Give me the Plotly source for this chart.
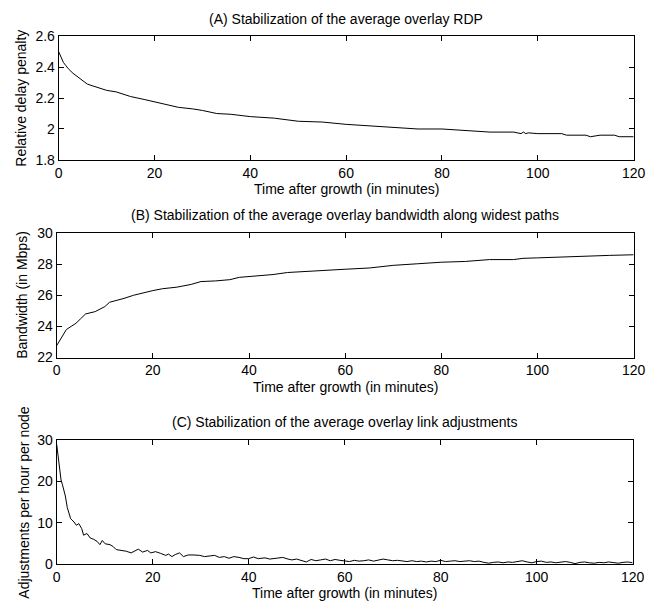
import plotly.graph_objects as go

# ---------------- data ----------------
# (A) average overlay RDP
rdp_t = [0, 0.5, 1, 1.5, 2, 3, 4, 5, 6, 7, 8, 10, 12, 15, 18, 20, 22, 25, 28, 30, 33, 36,
         40, 45, 50, 55, 60, 65, 70, 75, 80, 85, 90, 95, 96.5, 97, 97.5, 98, 100, 105, 106,
         110, 111, 113, 116, 117, 120]
rdp_v = [2.50, 2.46, 2.43, 2.41, 2.39, 2.36, 2.335, 2.31, 2.29, 2.28, 2.27, 2.25, 2.24, 2.21, 2.19, 2.175, 2.16, 2.14, 2.13, 2.12, 2.10, 2.095,
         2.08, 2.07, 2.05, 2.045, 2.03, 2.02, 2.01, 2.00, 2.00, 1.99, 1.98, 1.98, 1.97, 1.98, 1.97, 1.975, 1.97, 1.97, 1.96,
         1.96, 1.95, 1.96, 1.96, 1.95, 1.95]

# (B) average overlay bandwidth along widest paths
bw_t = [0, 1, 2, 3, 4, 5, 6, 8, 10, 11, 12, 14, 16, 18, 20, 22, 25, 28, 30, 33, 36, 38,
        40, 45, 48, 50, 55, 60, 65, 68, 70, 75, 80, 85, 90, 95, 97, 100, 105, 110, 115, 120]
bw_v = [22.77, 23.3, 23.8, 24.0, 24.2, 24.5, 24.8, 24.95, 25.27, 25.55, 25.63, 25.8, 26.0, 26.17, 26.3, 26.42, 26.52, 26.7, 26.88, 26.92, 27.0, 27.15,
        27.2, 27.33, 27.46, 27.5, 27.56, 27.67, 27.75, 27.88, 27.92, 28.02, 28.12, 28.17, 28.29, 28.29, 28.37, 28.4, 28.46, 28.54, 28.56, 28.6]

# (C) average overlay link adjustments (per hour per node)
adj_t = [0, 0.5, 0.9, 1.2, 1.8, 2.2, 2.9, 3.6, 4.1, 4.6, 5.2, 5.6, 6.3, 7.0, 7.7, 8.4, 9.0, 9.5,
         10.1, 11.1, 11.8, 12.4, 13.5, 14.5, 15.5, 16.2, 17.0, 17.9, 18.9, 19.6, 20.6, 21.6,
         22.7, 23.3, 24.0, 24.7, 25.6, 26.4, 27.4, 28.4, 29.8, 30.8, 31.8, 32.9, 33.9, 34.9,
         35.9, 36.9, 38.0, 39.0, 40.0, 41.0, 42.0, 43.4, 44.4, 45.8, 47.1, 48.2,
         49, 50, 51, 52, 53, 54, 55, 56, 57, 58, 59, 60, 61, 62, 63, 64, 65, 66, 67, 68, 69,
         70, 71, 72, 73, 74, 75, 76, 77, 78, 79, 80, 81, 82, 83, 84, 85, 86, 87, 88, 89, 90,
         91, 92, 93, 94, 95, 96, 97, 98, 99, 100, 101, 102, 103, 104, 105, 106, 107, 108, 109,
         110, 111, 112, 113, 114, 115, 116, 117, 118, 119, 120]
adj_v = [29.0, 23.9, 20.4, 19.2, 16.5, 13.7, 11.0, 10.2, 9.4, 9.8, 8.6, 7.0, 7.4, 6.3, 6.0, 5.5, 4.7, 5.7,
         4.9, 4.7, 4.2, 3.5, 3.3, 3.1, 2.7, 3.1, 3.6, 2.9, 3.3, 2.7, 3.0, 2.6,
         2.1, 2.4, 1.8, 2.3, 2.7, 1.8, 2.2, 2.2, 2.1, 1.8, 2.0, 2.1, 1.6, 1.8,
         1.4, 1.8, 1.6, 1.3, 1.3, 1.7, 1.3, 1.5, 1.2, 1.4, 1.6, 1.2,
         1.0, 1.2, 0.9, 0.5, 1.1, 0.8, 1.0, 1.2, 0.8, 1.1, 0.9, 0.8, 0.6, 0.9, 0.7, 0.8, 1.0, 0.7, 0.9, 1.2, 1.0,
         0.8, 0.9, 0.7, 0.6, 0.8, 0.6, 0.7, 0.5, 0.7, 0.6, 0.9, 0.6, 0.7, 0.8, 0.6, 0.7, 0.8, 0.6, 0.7, 0.4, 0.2,
         0.4, 0.5, 0.3, 0.5, 0.4, 0.6, 0.8, 0.5, 0.3, 0.6, 0.7, 0.4, 0.5, 0.3, 0.5, 0.6, 0.4, 0.1, 0.4,
         0.5, 0.3, 0.2, 0.4, 0.3, 0.5, 0.3, 0.2, 0.4, 0.5, 0.3]

x_ticks = [0, 20, 40, 60, 80, 100, 120]
x_ticktext = ["0", "20", "40", "60", "80", "100", "120"]
a_ticks = [1.8, 2.0, 2.2, 2.4, 2.6]
a_ticktext = ["1.8", "2", "2.2", "2.4", "2.6"]
b_ticks = [22, 24, 26, 28, 30]
b_ticktext = ["22", "24", "26", "28", "30"]
c_ticks = [0, 10, 20, 30]
c_ticktext = ["0", "10", "20", "30"]

titles = ["(A) Stabilization of the average overlay RDP",
          "(B) Stabilization of the average overlay bandwidth along widest paths",
          "(C) Stabilization of the average overlay link adjustments"]
x_title = "Time after growth (in minutes)"
y_titles = ["Relative delay penalty", "Bandwidth (in Mbps)", "Adjustments per hour per node"]

# ---------------- layout ----------------
W, H = 671, 610
FONT = "Liberation Sans, Arial, Helvetica, sans-serif"

def px_x(p):
    return p / W

def px_y(p):
    return 1 - p / H

panels = [  # left, right, top, bottom (pixels)
    (56, 645, 29, 156),
    (54, 645, 231, 359),
    (54, 644, 444, 571),
]
title_y = [11.5, 213, 425]
xtitle_y = [186, 389, 601]
ytitle_x = [18, 19, 21]

fig = go.Figure()
series = [(rdp_t, rdp_v), (bw_t, bw_v), (adj_t, adj_v)]
for i, (t, v) in enumerate(series):
    sfx = "" if i == 0 else str(i + 1)
    fig.add_trace(go.Scatter(x=t, y=v, mode="lines", line=dict(color="black", width=1),
                             xaxis="x" + sfx, yaxis="y" + sfx, showlegend=False,
                             hoverinfo="skip"))

yranges = [[1.8, 2.6], [22, 30], [0, 30]]
yticks = [(a_ticks, a_ticktext), (b_ticks, b_ticktext), (c_ticks, c_ticktext)]

axis_common = dict(showline=True, linecolor="black", linewidth=1, mirror="allticks",
                   ticks="inside", ticklen=5, tickwidth=1, tickcolor="black",
                   showgrid=False, zeroline=False,
                   tickfont=dict(family=FONT, size=14, color="black"))

annotations = []
for i, (l, r, t, b) in enumerate(panels):
    sfx = "" if i == 0 else str(i + 1)
    fig.layout["xaxis" + sfx] = dict(axis_common, domain=[px_x(l), px_x(r)], range=[0, 120],
                                     tickvals=x_ticks, ticktext=x_ticktext,
                                     anchor="y" + sfx)
    fig.layout["yaxis" + sfx] = dict(axis_common, domain=[px_y(b), px_y(t)], range=yranges[i],
                                     tickvals=yticks[i][0], ticktext=yticks[i][1],
                                     anchor="x" + sfx)
    cx = (l + r) / 2
    annotations.append(dict(text=titles[i], x=px_x(cx), y=px_y(title_y[i]), xref="paper", yref="paper",
                            xanchor="center", yanchor="middle", showarrow=False,
                            font=dict(family=FONT, size=14, color="black")))
    annotations.append(dict(text=x_title, x=px_x(cx), y=px_y(xtitle_y[i]), xref="paper", yref="paper",
                            xanchor="center", yanchor="middle", showarrow=False,
                            font=dict(family=FONT, size=14, color="black")))
    annotations.append(dict(text=y_titles[i], x=px_x(ytitle_x[i]), y=px_y((t + b) / 2), xref="paper", yref="paper",
                            xanchor="center", yanchor="middle", showarrow=False, textangle=-90,
                            font=dict(family=FONT, size=14, color="black")))

fig.update_layout(width=W, height=H, margin=dict(l=0, r=0, t=0, b=0),
                  paper_bgcolor="white", plot_bgcolor="white",
                  annotations=annotations, showlegend=False)

fig.write_html("out.html")
